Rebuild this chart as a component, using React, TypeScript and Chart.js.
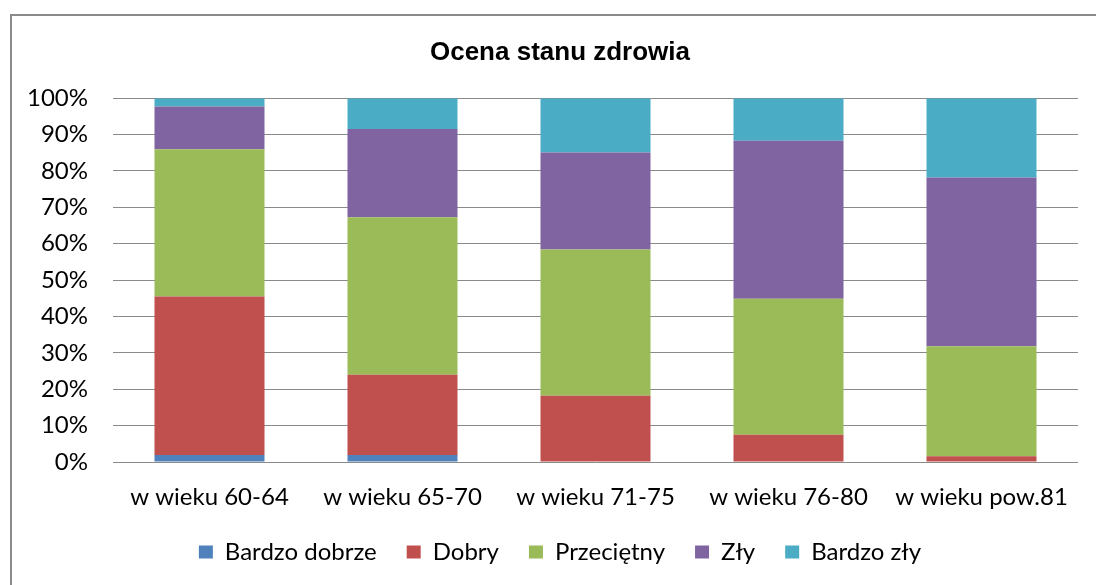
import React, { useEffect, useRef } from "react";
import { Chart, registerables } from "chart.js";

Chart.register(...registerables);

const categories = ["w wieku 60-64", "w wieku 65-70", "w wieku 71-75", "w wieku 76-80", "w wieku pow.81"];
const bardzoDobrze = [1.9, 1.9, 0, 0, 0];
const dobry = [43.6, 22.1, 18.2, 7.5, 1.6];
const przecietny = [40.5, 43.3, 40.2, 37.4, 30.2];
const zly = [11.7, 24.2, 26.7, 43.4, 46.4];
const bardzoZly = [2.3, 8.5, 14.9, 11.7, 21.8];
const yTicks = [0, 10, 20, 30, 40, 50, 60, 70, 80, 90, 100];

const FONT = "Lato, 'Liberation Sans', sans-serif";

export default function App() {
  const ref = useRef<HTMLCanvasElement | null>(null);
  useEffect(() => {
    if (!ref.current) return;
    const mk = (label: string, data: number[], color: string) => ({
      label,
      data,
      backgroundColor: color,
      borderWidth: 0,
      barPercentage: 0.57,
      categoryPercentage: 1,
    });
    const chart = new Chart(ref.current, {
      type: "bar",
      data: {
        labels: categories,
        datasets: [
          mk("Bardzo dobrze", bardzoDobrze, "#4F81BD"),
          mk("Dobry", dobry, "#C0504D"),
          mk("Przeciętny", przecietny, "#9BBB59"),
          mk("Zły", zly, "#8064A2"),
          mk("Bardzo zły", bardzoZly, "#4BACC6"),
        ],
      },
      options: {
        animation: false,
        responsive: false,
        layout: { padding: { top: 14, right: 18, bottom: 11, left: 42 } },
        plugins: {
          title: {
            display: true,
            text: "Ocena stanu zdrowia",
            color: "#000",
            font: { family: "'Liberation Sans', Arial, sans-serif", size: 26, weight: "bold" },
            padding: { top: 23, bottom: 30 },
          },
          legend: {
            position: "bottom",
            labels: {
              color: "#000",
              font: { family: FONT, size: 24 },
              boxWidth: 14,
              boxHeight: 13,
              padding: 30,
            },
          },
          tooltip: { enabled: false },
        },
        scales: {
          x: {
            stacked: true,
            grid: { display: false },
            border: { display: false },
            ticks: { color: "#000", font: { family: FONT, size: 24 }, padding: 13, maxRotation: 0 },
            afterFit: (s: any) => { s.height = 48; },
          },
          y: {
            stacked: true,
            min: 0,
            max: 100,
            afterBuildTicks: (s: any) => { s.ticks = yTicks.map((v) => ({ value: v })); },
            grid: { color: "#8A8A8A", lineWidth: 1, drawTicks: false },
            border: { display: false },
            ticks: {
              color: "#000",
              font: { family: FONT, size: 24 },
              padding: 25,
              callback: (v: any) => v + "%",
            },
            afterFit: (s: any) => {
              s.width = 71;
              s._computeLabelArea = () => undefined;
            },
          },
        },
      },
    });
    return () => chart.destroy();
  }, []);
  return (
    <div style={{ position: "fixed", left: 0, top: 0, width: 1096, height: 585, overflow: "hidden", background: "#fff" }}>
      <div style={{ position: "absolute", left: 10, top: 14, width: 1200, height: 700, border: "2px solid #8A8A8A" }} />
      <canvas ref={ref} width={1096} height={585} style={{ position: "absolute", left: 0, top: 0 }} />
    </div>
  );
}
